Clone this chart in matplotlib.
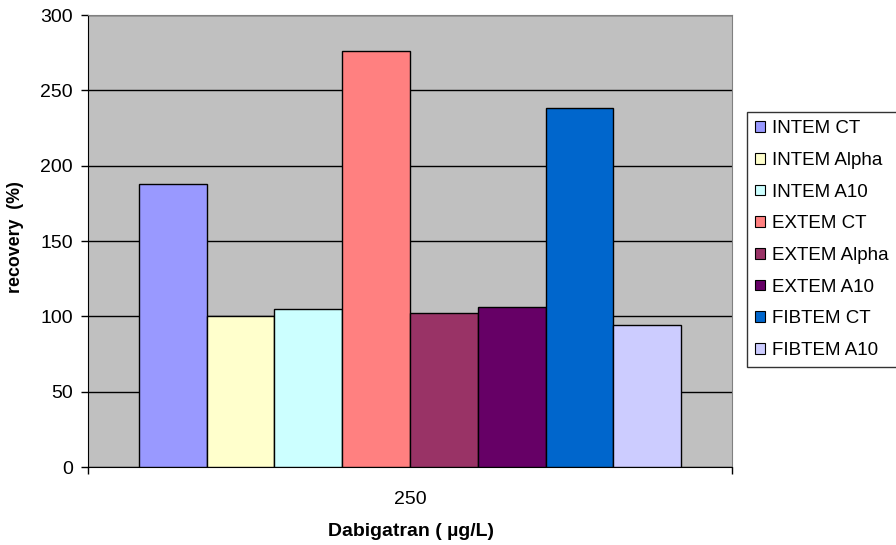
import numpy as np
import matplotlib.pyplot as plt
from matplotlib.patches import Patch

plt.rcParams['font.family'] = ['Liberation Sans', 'DejaVu Sans']

# recovery (%) per assay parameter at 250 ug/L dabigatran
series = ['INTEM CT', 'INTEM Alpha', 'INTEM A10', 'EXTEM CT',
          'EXTEM Alpha', 'EXTEM A10', 'FIBTEM CT', 'FIBTEM A10']
recovery = [188, 100, 105, 276, 102, 106, 238, 94]
colors = ['#9999FF', '#FFFFCC', '#CCFFFF', '#FF8080',
          '#993366', '#660066', '#0066CC', '#CCCCFF']
category = '250'

fig = plt.figure(figsize=(8.96, 5.45), dpi=100)
ax = fig.add_axes([88/896, 1-467/545, 644/896, 452/545])
ax.set_facecolor('#C0C0C0')

n = len(series)
w = 1.0 / (n + 1.5)  # excel-like gap width of 150%
x0 = -0.5 + 0.75*w
for i in range(n):
    ax.bar(x0 + (i+0.5)*w, recovery[i], width=w, color=colors[i],
           edgecolor='black', linewidth=1.0, zorder=3)

ax.set_xlim(-0.5, 0.5)
ax.set_ylim(0, 300)
ax.set_yticks(np.arange(0, 301, 50))
ax.yaxis.grid(True, color='black', linewidth=1.0, zorder=1)
ax.set_axisbelow(True)

ax.set_xticks([-0.5, 0.5])
ax.set_xticklabels(['', ''])
fig.text(410/896, 1-500/545, category, ha='center', va='center', fontsize=14)
ax.tick_params(axis='x', length=5, width=1, direction='out')
ax.tick_params(axis='y', length=5, width=1, direction='out', labelsize=14, pad=6)

for s in ['top', 'right']:
    ax.spines[s].set_color('#808080')
ax.spines['left'].set_color('black')
ax.spines['bottom'].set_color('black')

fig.text(16/896, 1-237/545, 'recovery  (%)', rotation=90, ha='center', va='center',
         fontsize=12.8, fontweight='bold')
fig.text(411/896, 1-532/545, 'Dabigatran ( µg/L)', ha='center', va='center',
         fontsize=14, fontweight='bold')

handles = [Patch(facecolor=c, edgecolor='black', linewidth=0.8) for c in colors]
leg = fig.legend(handles, series, loc='upper left',
                 bbox_to_anchor=(747/896, 1-112/545), fontsize=13.5,
                 frameon=True, fancybox=False, edgecolor='black',
                 handlelength=0.5, handleheight=0.5, handletextpad=0.4,
                 labelspacing=0.78, borderpad=0.45, borderaxespad=0)
leg.get_frame().set_linewidth(1.0)

fig.savefig('out.png', dpi=100)
